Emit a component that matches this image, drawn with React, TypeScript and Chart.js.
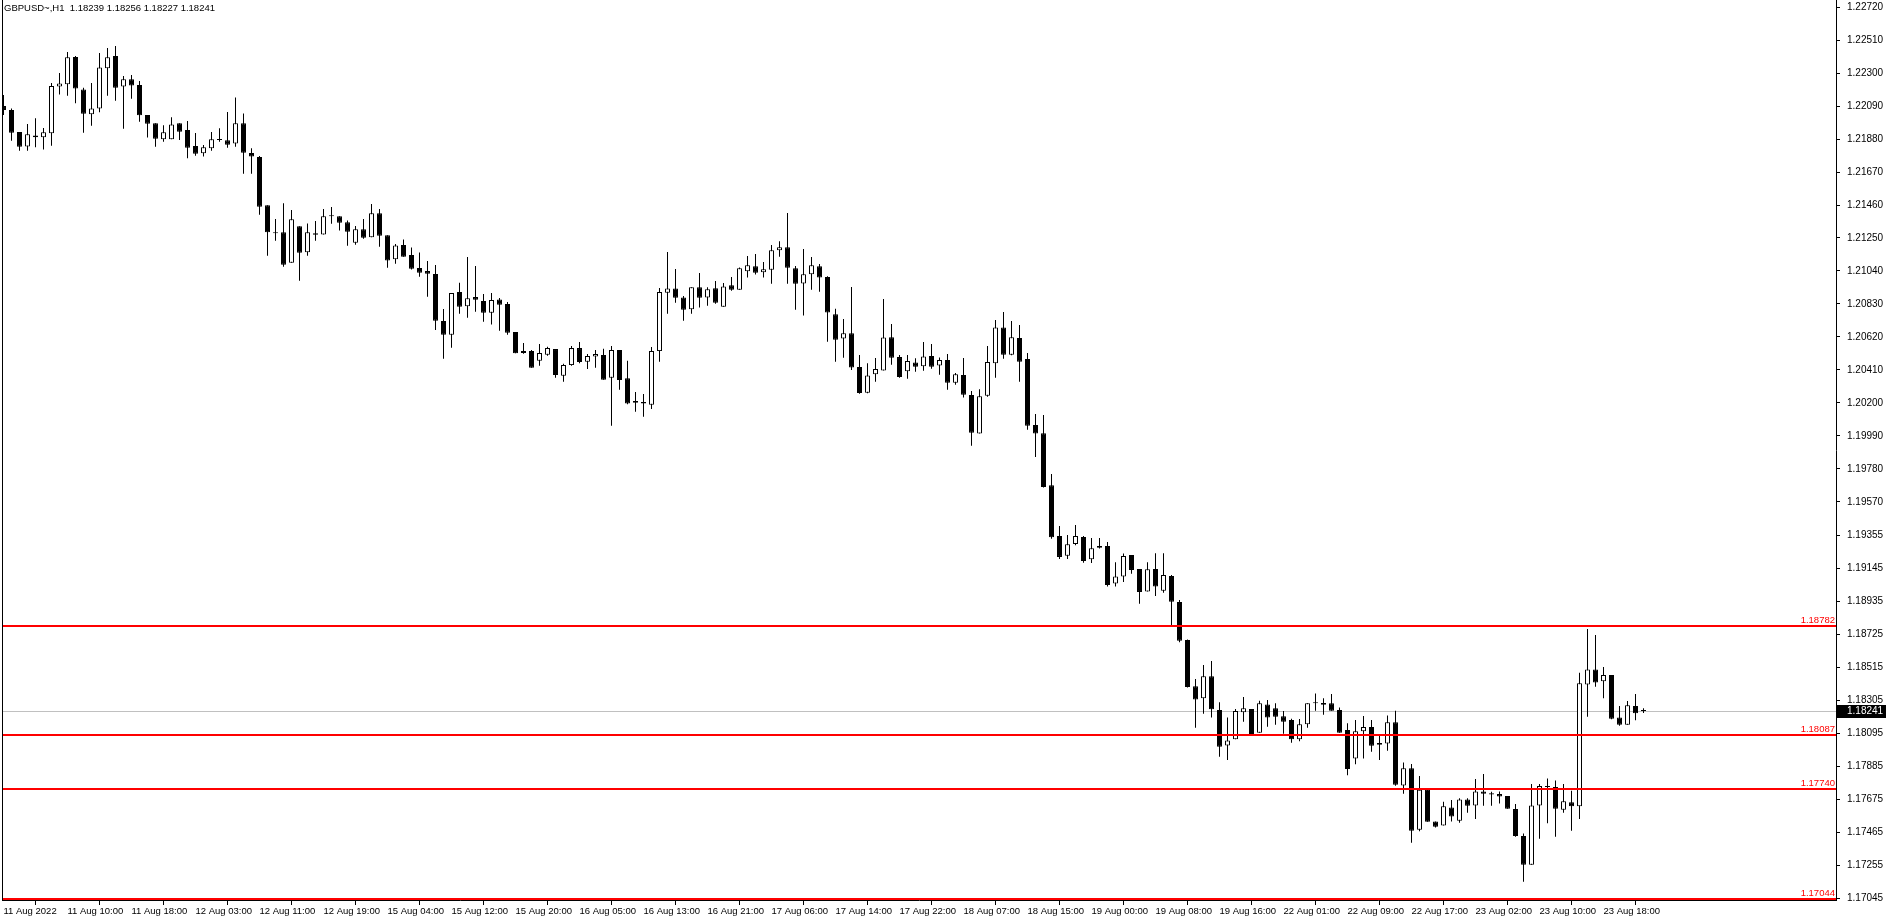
import React, { useEffect, useRef } from "react";
import { Chart, registerables } from "chart.js";

Chart.register(...registerables);

const chartTitle = "GBPUSD~,H1  1.18239 1.18256 1.18227 1.18241";

const opens = [
  1.22090, 1.22065, 1.21925, 1.21833, 1.21903, 1.21891, 1.21916, 1.22215, 1.22228, 1.22402,
  1.22196, 1.22037, 1.22075, 1.22330, 1.22408, 1.22215, 1.22260, 1.22224, 1.22033, 1.21980,
  1.21878, 1.21878, 1.21980, 1.21937, 1.21836, 1.21789, 1.21821, 1.21874, 1.21872, 1.21852,
  1.21980, 1.21791, 1.21765, 1.21458, 1.21280, 1.21286, 1.21093, 1.21324, 1.21159, 1.21280,
  1.21273, 1.21388, 1.21388, 1.21350, 1.21220, 1.21305, 1.21254, 1.21407, 1.21267, 1.21114,
  1.21205, 1.21142, 1.21059, 1.21040, 1.21021, 1.20721, 1.20634, 1.20906, 1.20815, 1.20874,
  1.20849, 1.20774, 1.20859, 1.20830, 1.20651, 1.20530, 1.20530, 1.20469, 1.20507, 1.20543,
  1.20373, 1.20441, 1.20549, 1.20462, 1.20496, 1.20505, 1.20361, 1.20537, 1.20358, 1.20212,
  1.20206, 1.20189, 1.20530, 1.20902, 1.20929, 1.20872, 1.20796, 1.20936, 1.20872, 1.20930,
  1.20813, 1.20949, 1.20921, 1.21038, 1.21070, 1.21032, 1.21048, 1.21172, 1.21191, 1.21057,
  1.20961, 1.21019, 1.21070, 1.21002, 1.20764, 1.20611, 1.20643, 1.20429, 1.20265, 1.20382,
  1.20407, 1.20619, 1.20492, 1.20401, 1.20458, 1.20433, 1.20499, 1.20439, 1.20473, 1.20329,
  1.20378, 1.20250, 1.20006, 1.20246, 1.20452, 1.20681, 1.20507, 1.20613, 1.20479, 1.20059,
  1.20007, 1.19676, 1.19353, 1.19228, 1.19302, 1.19347, 1.19205, 1.19290, 1.19290, 1.19050,
  1.19096, 1.19232, 1.19143, 1.18999, 1.19143, 1.19005, 1.19099, 1.18933, 1.18691, 1.18396,
  1.18320, 1.18460, 1.18245, 1.18020, 1.18059, 1.18231, 1.18252, 1.18101, 1.18281, 1.18256,
  1.18205, 1.18182, 1.18059, 1.18154, 1.18288, 1.18290, 1.18288, 1.18245, 1.18118, 1.17936,
  1.18110, 1.18137, 1.18035, 1.18033, 1.18167, 1.17765, 1.17874, 1.17483, 1.17738, 1.17536,
  1.17511, 1.17625, 1.17541, 1.17676, 1.17638, 1.17727, 1.17715, 1.17710, 1.17698, 1.17615,
  1.17443, 1.17260, 1.17638, 1.17755, 1.17755, 1.17611, 1.17659, 1.17632, 1.18408, 1.18504,
  1.18428, 1.18468, 1.18198, 1.18152, 1.18271, 1.18239,
];

const highs = [
  1.22160, 1.22075, 1.21925, 1.21976, 1.22012, 1.21950, 1.22237, 1.22300, 1.22434, 1.22408,
  1.22207, 1.22237, 1.22428, 1.22459, 1.22472, 1.22281, 1.22288, 1.22249, 1.22033, 1.21980,
  1.21967, 1.22018, 1.21980, 1.21995, 1.21918, 1.21842, 1.21925, 1.21948, 1.22052, 1.22145,
  1.22043, 1.21821, 1.21772, 1.21458, 1.21371, 1.21471, 1.21428, 1.21324, 1.21343, 1.21358,
  1.21434, 1.21447, 1.21388, 1.21362, 1.21326, 1.21371, 1.21466, 1.21434, 1.21267, 1.21212,
  1.21240, 1.21190, 1.21158, 1.21103, 1.21078, 1.20798, 1.20900, 1.20965, 1.21129, 1.21071,
  1.20893, 1.20900, 1.20868, 1.20842, 1.20651, 1.20581, 1.20537, 1.20575, 1.20558, 1.20543,
  1.20450, 1.20562, 1.20588, 1.20511, 1.20537, 1.20545, 1.20562, 1.20537, 1.20469, 1.20269,
  1.20257, 1.20556, 1.20931, 1.21161, 1.21052, 1.20881, 1.20936, 1.21027, 1.20936, 1.20976,
  1.20964, 1.21002, 1.21063, 1.21136, 1.21148, 1.21097, 1.21206, 1.21229, 1.21409, 1.21072,
  1.21180, 1.21129, 1.21085, 1.21006, 1.20800, 1.20734, 1.20938, 1.20505, 1.20452, 1.20486,
  1.20861, 1.20702, 1.20505, 1.20505, 1.20484, 1.20588, 1.20575, 1.20490, 1.20511, 1.20390,
  1.20486, 1.20276, 1.20288, 1.20562, 1.20728, 1.20779, 1.20721, 1.20696, 1.20518, 1.20129,
  1.20124, 1.19748, 1.19417, 1.19360, 1.19423, 1.19353, 1.19341, 1.19341, 1.19315, 1.19186,
  1.19241, 1.19232, 1.19143, 1.19186, 1.19243, 1.19243, 1.19105, 1.18946, 1.18695, 1.18443,
  1.18532, 1.18557, 1.18294, 1.18197, 1.18252, 1.18328, 1.18252, 1.18305, 1.18309, 1.18288,
  1.18239, 1.18190, 1.18188, 1.18288, 1.18351, 1.18320, 1.18347, 1.18262, 1.18161, 1.18182,
  1.18207, 1.18182, 1.18093, 1.18211, 1.18241, 1.17912, 1.17901, 1.17825, 1.17738, 1.17536,
  1.17662, 1.17672, 1.17683, 1.17683, 1.17806, 1.17838, 1.17725, 1.17727, 1.17698, 1.17647,
  1.17460, 1.17774, 1.17774, 1.17810, 1.17797, 1.17774, 1.17732, 1.18483, 1.18761, 1.18723,
  1.18519, 1.18468, 1.18271, 1.18302, 1.18347, 1.18256,
];

const lows = [
  1.22033, 1.21869, 1.21806, 1.21806, 1.21827, 1.21814, 1.21838, 1.22164, 1.22156, 1.22107,
  1.21920, 1.21965, 1.22050, 1.22156, 1.22124, 1.21946, 1.22137, 1.21990, 1.21889, 1.21831,
  1.21863, 1.21878, 1.21874, 1.21757, 1.21774, 1.21768, 1.21806, 1.21863, 1.21825, 1.21831,
  1.21659, 1.21659, 1.21398, 1.21137, 1.21233, 1.21067, 1.21093, 1.20978, 1.21137, 1.21233,
  1.21273, 1.21341, 1.21297, 1.21201, 1.21207, 1.21246, 1.21254, 1.21195, 1.21061, 1.21086,
  1.21131, 1.21050, 1.21004, 1.20876, 1.20664, 1.20482, 1.20552, 1.20768, 1.20743, 1.20781,
  1.20717, 1.20700, 1.20660, 1.20634, 1.20516, 1.20513, 1.20424, 1.20437, 1.20501, 1.20361,
  1.20335, 1.20437, 1.20452, 1.20416, 1.20424, 1.20348, 1.20055, 1.20284, 1.20191, 1.20144,
  1.20112, 1.20161, 1.20462, 1.20768, 1.20838, 1.20724, 1.20768, 1.20807, 1.20819, 1.20832,
  1.20813, 1.20915, 1.20921, 1.20998, 1.21017, 1.20998, 1.20959, 1.21131, 1.20959, 1.20794,
  1.20756, 1.20921, 1.20908, 1.20590, 1.20463, 1.20488, 1.20410, 1.20259, 1.20261, 1.20335,
  1.20407, 1.20443, 1.20361, 1.20354, 1.20399, 1.20405, 1.20418, 1.20380, 1.20284, 1.20316,
  1.20235, 1.19928, 1.20006, 1.20240, 1.20361, 1.20482, 1.20503, 1.20335, 1.20030, 1.19856,
  1.19661, 1.19336, 1.19207, 1.19207, 1.19294, 1.19183, 1.19181, 1.19273, 1.19031, 1.19031,
  1.19060, 1.19113, 1.18922, 1.18999, 1.18971, 1.18992, 1.18780, 1.18676, 1.18388, 1.18133,
  1.18222, 1.18197, 1.17948, 1.17927, 1.18059, 1.18171, 1.18086, 1.18101, 1.18139, 1.18152,
  1.18095, 1.18037, 1.18046, 1.18133, 1.18241, 1.18216, 1.18241, 1.18101, 1.17830, 1.17900,
  1.17936, 1.17980, 1.17927, 1.17986, 1.17763, 1.17712, 1.17400, 1.17473, 1.17534, 1.17498,
  1.17511, 1.17536, 1.17528, 1.17591, 1.17551, 1.17636, 1.17636, 1.17651, 1.17617, 1.17439,
  1.17152, 1.17260, 1.17426, 1.17524, 1.17439, 1.17591, 1.17477, 1.17551, 1.18203, 1.18394,
  1.18321, 1.18186, 1.18145, 1.18152, 1.18181, 1.18227,
];

const closes = [
  1.22065, 1.21920, 1.21831, 1.21910, 1.21891, 1.21923, 1.22218, 1.22234, 1.22400, 1.22201,
  1.22041, 1.22075, 1.22336, 1.22400, 1.22207, 1.22260, 1.22220, 1.22031, 1.21978, 1.21882,
  1.21923, 1.21973, 1.21927, 1.21825, 1.21787, 1.21827, 1.21878, 1.21880, 1.21844, 1.21980,
  1.21793, 1.21768, 1.21449, 1.21286, 1.21281, 1.21080, 1.21369, 1.21156, 1.21286, 1.21271,
  1.21388, 1.21389, 1.21347, 1.21290, 1.21305, 1.21252, 1.21407, 1.21265, 1.21106, 1.21203,
  1.21131, 1.21055, 1.21029, 1.21023, 1.20723, 1.20634, 1.20900, 1.20813, 1.20866, 1.20857,
  1.20774, 1.20855, 1.20825, 1.20647, 1.20516, 1.20518, 1.20424, 1.20518, 1.20549, 1.20378,
  1.20441, 1.20549, 1.20460, 1.20499, 1.20511, 1.20348, 1.20537, 1.20346, 1.20197, 1.20201,
  1.20197, 1.20530, 1.20906, 1.20929, 1.20870, 1.20794, 1.20936, 1.20870, 1.20923, 1.20838,
  1.20942, 1.20921, 1.21057, 1.21076, 1.21029, 1.21051, 1.21172, 1.21191, 1.21061, 1.20959,
  1.21019, 1.21076, 1.20998, 1.20775, 1.20603, 1.20643, 1.20425, 1.20263, 1.20375, 1.20416,
  1.20617, 1.20488, 1.20365, 1.20467, 1.20431, 1.20496, 1.20431, 1.20473, 1.20329, 1.20382,
  1.20252, 1.20010, 1.20242, 1.20460, 1.20681, 1.20507, 1.20619, 1.20462, 1.20055, 1.20006,
  1.19665, 1.19345, 1.19220, 1.19300, 1.19353, 1.19194, 1.19275, 1.19279, 1.19041, 1.19096,
  1.19226, 1.19137, 1.18997, 1.19141, 1.19031, 1.19105, 1.18935, 1.18687, 1.18392, 1.18313,
  1.18460, 1.18250, 1.18012, 1.18052, 1.18239, 1.18256, 1.18086, 1.18288, 1.18197, 1.18203,
  1.18171, 1.18059, 1.18154, 1.18288, 1.18289, 1.18279, 1.18241, 1.18101, 1.17870, 1.18110,
  1.18137, 1.18018, 1.18025, 1.18167, 1.17770, 1.17874, 1.17477, 1.17738, 1.17534, 1.17502,
  1.17632, 1.17568, 1.17676, 1.17636, 1.17727, 1.17712, 1.17708, 1.17695, 1.17617, 1.17443,
  1.17260, 1.17638, 1.17761, 1.17761, 1.17617, 1.17664, 1.17632, 1.18415, 1.18504, 1.18421,
  1.18468, 1.18190, 1.18152, 1.18275, 1.18224, 1.18241,
];

const timeLabels = [
  "11 Aug 2022", "11 Aug 10:00", "11 Aug 18:00", "12 Aug 03:00", "12 Aug 11:00",
  "12 Aug 19:00", "15 Aug 04:00", "15 Aug 12:00", "15 Aug 20:00", "16 Aug 05:00",
  "16 Aug 13:00", "16 Aug 21:00", "17 Aug 06:00", "17 Aug 14:00", "17 Aug 22:00",
  "18 Aug 07:00", "18 Aug 15:00", "19 Aug 00:00", "19 Aug 08:00", "19 Aug 16:00",
  "22 Aug 01:00", "22 Aug 09:00", "22 Aug 17:00", "23 Aug 02:00", "23 Aug 10:00",
  "23 Aug 18:00",
];
const barsPerLabel = 8;

const yTickValues = [
  1.2272, 1.2251, 1.223, 1.2209, 1.2188, 1.2167, 1.2146, 1.2125, 1.2104, 1.2083,
  1.2062, 1.2041, 1.202, 1.1999, 1.1978, 1.1957, 1.19355, 1.19145, 1.18935, 1.18725,
  1.18515, 1.18305, 1.18095, 1.17885, 1.17675, 1.17465, 1.17255, 1.17045,
];

const levelPrices = [1.18782, 1.18087, 1.1774, 1.17044];
const levelLabels = ["1.18782", "1.18087", "1.17740", "1.17044"];
const currentPrice = 1.18241;
const currentLabel = "1.18241";

const yMin = 1.17036;
const yMax = 1.22765;
const xMin = -0.1875;
const xMax = 229.0625;

const FONT = "'Liberation Sans', Arial, sans-serif";

const overlayPlugin = {
  id: "mtOverlay",
  beforeDatasetsDraw(chart: any) {
    const { ctx, chartArea, scales } = chart;
    const y = Math.round(scales.y.getPixelForValue(currentPrice));
    ctx.save();
    ctx.fillStyle = "#c0c0c0";
    ctx.fillRect(chartArea.left + 1, y, chartArea.right - chartArea.left - 1, 1);
    ctx.restore();
  },
  afterDatasetsDraw(chart: any) {
    const { ctx, chartArea, scales } = chart;
    ctx.save();
    ctx.font = `9.5px ${FONT}`;
    ctx.textAlign = "right";
    ctx.textBaseline = "alphabetic";
    levelPrices.forEach((p, i) => {
      const y = Math.round(scales.y.getPixelForValue(p));
      ctx.fillStyle = "#ff0000";
      ctx.fillRect(chartArea.left + 1, y - 1, chartArea.right - chartArea.left - 1, 2);
      ctx.fillText(levelLabels[i], chartArea.right - 1, y - 3);
    });
    ctx.restore();
  },
  afterDraw(chart: any) {
    const { ctx, chartArea, scales } = chart;
    ctx.save();
    ctx.fillStyle = "#000000";
    ctx.fillRect(chartArea.left, 0, 1, chartArea.bottom + 1);
    ctx.font = `9.5px ${FONT}`;
    ctx.textAlign = "left";
    ctx.textBaseline = "middle";
    ctx.fillStyle = "#000000";
    ctx.fillText(chartTitle, 4, 8);
    const y = Math.round(scales.y.getPixelForValue(currentPrice));
    ctx.font = `10px ${FONT}`;
    ctx.fillStyle = "#000000";
    ctx.fillRect(chartArea.right + 1, y - 6, 49, 13);
    ctx.fillStyle = "#ffffff";
    ctx.fillText(currentLabel, chartArea.right + 11, y + 0.5);
    ctx.restore();
  },
};

export default function App() {
  const canvasRef = useRef<HTMLCanvasElement | null>(null);

  useEffect(() => {
    document.body.style.margin = "0";
    const canvas = canvasRef.current;
    if (!canvas) return;

    const idx = opens.map((_, i) => i);
    const wickData = idx.map((i) => ({ x: i, y: [lows[i], highs[i]] }));
    const bodyData = idx.map((i) => ({ x: i, y: [opens[i], closes[i]] }));
    const bodyColors = idx.map((i) => (closes[i] >= opens[i] ? "#ffffff" : "#000000"));

    const chart = new Chart(canvas, {
      type: "bar",
      data: {
        datasets: [
          {
            label: "body",
            data: bodyData as any,
            backgroundColor: bodyColors,
            borderColor: "#000000",
            borderWidth: 1,
            borderSkipped: false,
            barThickness: 5,
            grouped: false,
            minBarLength: 1,
            inflateAmount: 0,
            order: 1,
          } as any,
          {
            label: "wick",
            data: wickData as any,
            backgroundColor: "#000000",
            borderWidth: 0,
            barThickness: 1,
            grouped: false,
            inflateAmount: 0,
            order: 2,
          } as any,
        ],
      },
      options: {
        responsive: false,
        animation: false,
        devicePixelRatio: 1,
        layout: { padding: { left: 2, top: 0, right: 0, bottom: 0 } },
        plugins: {
          legend: { display: false },
          tooltip: { enabled: false },
          title: { display: false },
        },
        scales: {
          x: {
            type: "linear",
            position: "bottom",
            min: xMin,
            max: xMax,
            offset: false,
            afterFit: (s: any) => {
              s.height = 23;
              s.paddingLeft = 0;
              s.paddingRight = 0;
            },
            afterBuildTicks: (s: any) => {
              s.ticks = timeLabels.map((_, i) => ({ value: i * barsPerLabel }));
            },
            ticks: {
              autoSkip: false,
              maxRotation: 0,
              minRotation: 0,
              align: "start",
              padding: 1,
              color: "#000000",
              font: { family: FONT, size: 9.5 },
              callback: (v: any) => timeLabels[Math.round(Number(v) / barsPerLabel)] ?? "",
            },
            grid: {
              display: true,
              drawOnChartArea: false,
              drawTicks: true,
              tickLength: 5,
              color: "#000000",
            },
            border: { display: true, color: "#000000", width: 1 },
          },
          y: {
            type: "linear",
            position: "right",
            min: yMin,
            max: yMax,
            afterFit: (s: any) => {
              s.width = 52;
              s.paddingTop = 0;
              s.paddingBottom = 0;
            },
            afterBuildTicks: (s: any) => {
              s.ticks = yTickValues.map((v) => ({ value: v }));
            },
            ticks: {
              autoSkip: false,
              padding: 7,
              color: "#000000",
              font: { family: FONT, size: 10 },
              callback: (v: any) => Number(v).toFixed(5),
            },
            grid: {
              display: true,
              drawOnChartArea: false,
              drawTicks: true,
              tickLength: 4,
              color: "#000000",
            },
            border: { display: true, color: "#000000", width: 1 },
          },
        },
      },
      plugins: [overlayPlugin],
    });

    return () => {
      chart.destroy();
    };
  }, []);

  return (
    <div style={{ width: 1888, height: 923, position: "relative", background: "#ffffff" }}>
      <canvas ref={canvasRef} width={1888} height={923} style={{ display: "block", width: 1888, height: 923 }} />
    </div>
  );
}
